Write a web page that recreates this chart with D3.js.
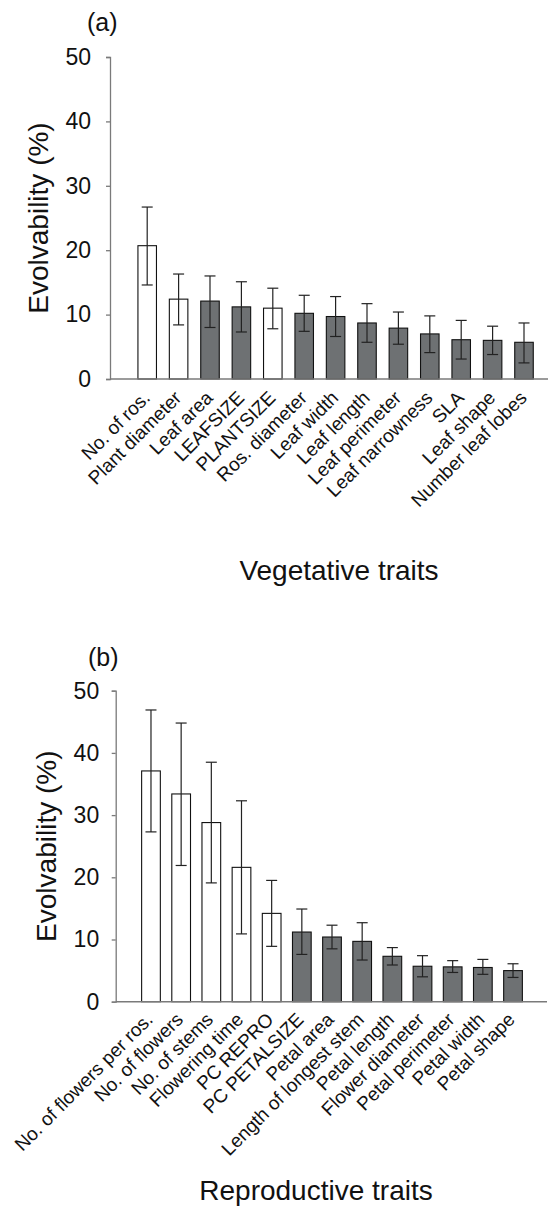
<!DOCTYPE html>
<html>
<head>
<meta charset="utf-8">
<script src="https://cdn.jsdelivr.net/npm/d3@7"></script>
<style>
  html, body { margin: 0; padding: 0; background: #fff; }
  svg { display: block; font-family: "Liberation Sans", Arial, sans-serif; }
</style>
</head>
<body>
<svg id="chart" width="550" height="1211"></svg>
<script>
// ---- Data: panel (a) vegetative traits ----
const vegCategories = ["No. of ros.", "Plant diameter", "Leaf area", "LEAFSIZE", "PLANTSIZE",
  "Ros. diameter", "Leaf width", "Leaf length", "Leaf perimeter", "Leaf narrowness",
  "SLA", "Leaf shape", "Number leaf lobes"];
const vegValues = [20.7, 12.4, 12.1, 11.2, 11.0, 10.2, 9.7, 8.7, 7.9, 7.0, 6.1, 6.0, 5.7];
const vegUpper  = [26.7, 16.3, 16.0, 15.1, 14.1, 13.0, 12.8, 11.7, 10.4, 9.8, 9.1, 8.2, 8.7];
const vegLower  = [14.6, 8.4, 8.0, 7.3, 7.8, 7.4, 6.6, 5.7, 5.4, 4.1, 3.1, 3.8, 2.5];
const vegComposite = [true, true, false, false, true, false, false, false, false, false, false, false, false];

// ---- Data: panel (b) reproductive traits ----
const repCategories = ["No. of flowers per ros.", "No. of flowers", "No. of stems", "Flowering time",
  "PC REPRO", "PC PETALSIZE", "Petal area", "Length of longest stem", "Petal length",
  "Flower diameter", "Petal perimeter", "Petal width", "Petal shape"];
const repValues = [37.1, 33.4, 28.8, 21.6, 14.2, 11.2, 10.4, 9.7, 7.3, 5.7, 5.6, 5.5, 5.0];
const repUpper  = [46.9, 44.8, 38.5, 32.3, 19.5, 14.9, 12.3, 12.7, 8.7, 7.4, 6.6, 6.8, 6.1];
const repLower  = [27.3, 21.9, 19.1, 10.9, 8.9, 7.6, 8.5, 6.7, 5.9, 4.0, 4.7, 4.4, 3.9];
const repComposite = [true, true, true, true, true, false, false, false, false, false, false, false, false];

const yTicks = [0, 10, 20, 30, 40, 50];

const svg = d3.select("#chart");

function panel(cfg) {
  const g = svg.append("g");
  const x = d3.scaleBand()
    .domain(cfg.categories)
    .range(cfg.xRange)
    .paddingInner(cfg.padIn)
    .paddingOuter(cfg.padIn / 2);
  const y = d3.scaleLinear().domain([0, 50]).range(cfg.yRange);

  // y axis
  const yAxis = d3.axisLeft(y).tickValues(yTicks).tickSize(4).tickPadding(cfg.tickPad);
  const ya = g.append("g").attr("transform", `translate(${cfg.axisX},0)`).call(yAxis);
  ya.select(".domain").attr("stroke", "#7a7a7a").attr("stroke-width", 1.3);
  ya.selectAll(".tick line").attr("stroke", "#7a7a7a").attr("stroke-width", 1.3);
  ya.selectAll(".tick text").attr("font-size", 23).attr("fill", "#111")
    .attr("font-family", "Liberation Sans, Arial, sans-serif");

  // bars
  g.selectAll("rect.bar").data(cfg.values).enter().append("rect")
    .attr("class", "bar")
    .attr("x", (d, i) => x(cfg.categories[i]))
    .attr("width", x.bandwidth())
    .attr("y", d => y(d))
    .attr("height", d => y(0) - y(d))
    .attr("fill", (d, i) => cfg.composite[i] ? "#ffffff" : "#6e7173")
    .attr("stroke", "#111")
    .attr("stroke-width", 1.1);

  // error bars
  const cap = 5.5;
  const cx = i => x(cfg.categories[i]) + x.bandwidth() / 2;
  const eb = g.selectAll("g.err").data(cfg.values).enter().append("g").attr("class", "err");
  eb.append("line")
    .attr("x1", (d, i) => cx(i)).attr("x2", (d, i) => cx(i))
    .attr("y1", (d, i) => y(cfg.upper[i])).attr("y2", (d, i) => y(cfg.lower[i]));
  eb.append("line")
    .attr("x1", (d, i) => cx(i) - cap).attr("x2", (d, i) => cx(i) + cap)
    .attr("y1", (d, i) => y(cfg.upper[i])).attr("y2", (d, i) => y(cfg.upper[i]));
  eb.append("line")
    .attr("x1", (d, i) => cx(i) - cap).attr("x2", (d, i) => cx(i) + cap)
    .attr("y1", (d, i) => y(cfg.lower[i])).attr("y2", (d, i) => y(cfg.lower[i]));
  eb.selectAll("line").attr("stroke", "#222").attr("stroke-width", 1.2);

  // x baseline
  g.append("line")
    .attr("x1", cfg.axisX).attr("x2", cfg.axisEnd)
    .attr("y1", y(0)).attr("y2", y(0))
    .attr("stroke", "#7a7a7a").attr("stroke-width", 1.5);

  // category labels
  g.selectAll("text.cat").data(cfg.categories).enter().append("text")
    .attr("class", "cat")
    .attr("transform", d => `translate(${x(d) + x.bandwidth() / 2 + cfg.labDx},${y(0) + cfg.labDy}) rotate(-45)`)
    .attr("text-anchor", "end")
    .attr("font-size", 19)
    .attr("fill", "#111")
    .text(d => d);

  // y title
  const yc = (cfg.yRange[0] + cfg.yRange[1]) / 2;
  g.append("text")
    .attr("transform", `translate(${cfg.titleX},${yc}) rotate(-90)`)
    .attr("text-anchor", "middle")
    .attr("font-size", 28)
    .attr("fill", "#111")
    .text("Evolvability (%)");

  // panel letter
  g.append("text")
    .attr("x", cfg.letterX).attr("y", cfg.letterY)
    .attr("font-size", 25)
    .attr("fill", "#111")
    .text(cfg.letter);

  // x title
  g.append("text")
    .attr("x", cfg.xTitleX).attr("y", cfg.xTitleY)
    .attr("text-anchor", "middle")
    .attr("font-size", 28)
    .attr("fill", "#111")
    .text(cfg.xTitle);
}

panel({
  categories: vegCategories, values: vegValues, upper: vegUpper, lower: vegLower, composite: vegComposite,
  xRange: [131.5, 539.7], padIn: 0.41, yRange: [379, 57], axisX: 110, axisEnd: 548, tickPad: 15,
  labDx: 4, labDy: 20,
  titleX: 48, letter: "(a)", letterX: 87, letterY: 31,
  xTitle: "Vegetative traits", xTitleX: 339, xTitleY: 580
});

panel({
  categories: repCategories, values: repValues, upper: repUpper, lower: repLower, composite: repComposite,
  xRange: [135.9, 528.1], padIn: 0.38, yRange: [1001.7, 690.7], axisX: 115.7, axisEnd: 547, tickPad: 12.5,
  labDx: 3, labDy: 19,
  titleX: 56, letter: "(b)", letterX: 88, letterY: 666,
  xTitle: "Reproductive traits", xTitleX: 316, xTitleY: 1200
});
</script>
</body>
</html>
